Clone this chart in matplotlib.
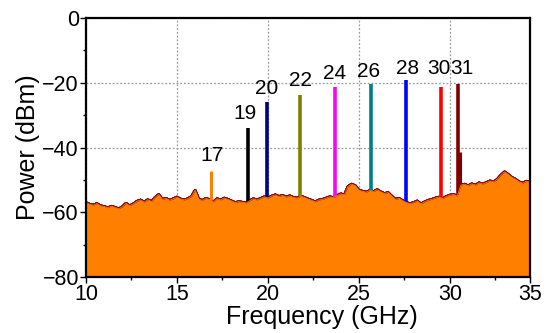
import numpy as np
import matplotlib
matplotlib.use("Agg")
import matplotlib.pyplot as plt

plt.rcParams['font.family'] = ['Liberation Sans', 'DejaVu Sans']

# Frequency grid of the noise floor (GHz)
freq_start, freq_step = 10.0, 0.2
noise_floor = [
    -57.0, -57.5, -57.8, -57.3, -58.0, -58.2, -58.6, -58.1, -58.5, -58.9,
    -58.3, -57.2, -58.0, -57.4, -56.6, -56.2, -56.9, -56.1, -56.7, -55.4,
    -54.5, -56.0, -55.7, -56.3, -55.8, -55.3, -55.9, -56.2, -55.8, -55.1,
    -53.2, -56.0, -56.3, -55.7, -56.1, -56.8, -55.8, -56.2, -55.6, -56.0,
    -56.5, -57.0, -56.7, -56.9, -57.1, -56.4, -55.8, -56.2, -55.7, -55.2,
    -55.6, -55.0, -54.6, -55.1, -54.8, -55.3, -54.9, -55.4, -55.6, -55.0,
    -55.4, -55.9, -56.3, -56.8, -56.2, -56.0, -55.6, -55.2, -55.5, -54.8,
    -54.3, -54.6, -52.0, -51.3, -51.8, -53.2, -53.5, -53.8, -53.2, -53.6,
    -53.0, -53.7, -54.2, -53.9, -55.0, -56.0, -55.7, -56.4, -57.0, -57.3,
    -57.0, -56.5, -57.4, -56.8, -56.3, -56.0, -55.6, -55.3, -55.8, -55.1,
    -54.7, -54.5, -55.0, -51.6, -51.3, -51.8, -51.2, -51.6, -50.9, -51.3,
    -50.8, -50.3, -50.6, -49.8, -48.5, -47.5, -48.3, -49.2, -49.8, -50.6,
    -51.0, -50.4, -50.6,
]

# Tone peaks for each trace
labels = ["17", "19", "20", "22", "24", "26", "28", "30", "31"]
peak_freq = [16.87, 18.88, 19.96, 21.76, 23.70, 25.64, 27.58, 29.50, 30.46]
peak_dbm = [-47.3, -34.1, -25.8, -23.8, -21.2, -20.4, -19.2, -21.2, -20.4]
label_freq = [16.91, 18.74, 19.95, 21.81, 23.68, 25.55, 27.69, 29.40, 30.66]
label_dbm = [-45.5, -32.3, -24.8, -22.3, -20.0, -19.6, -18.5, -18.5, -18.5]
colors = ["#FF8000", "black", "#000080", "#808000", "#FF00FF",
          "#008080", "#0000FF", "#FF0000", "#800000"]

# secondary spur of the 31 GHz trace
spur_freq = [30.55]
spur_dbm = [-41.3]

x_ticks = [10, 15, 20, 25, 30, 34.4]
x_ticklabels = ["10", "15", "20", "25", "30", "35"]
y_ticks = [-80, -60, -40, -20, 0]

freq = freq_start + freq_step * np.arange(len(noise_floor))
floor = np.array(noise_floor)

fig = plt.figure(figsize=(5.51, 3.33), dpi=100)
ax = fig.add_axes([0.156, 0.168, 0.806, 0.778])

# colored traces (floor + tone), drawn first
order = [1, 2, 3, 4, 5, 6, 7, 8]
for i in order:
    ax.plot(freq, floor, color=colors[i], lw=1.8, zorder=2)
for i in order:
    base = np.interp(peak_freq[i], freq, floor)
    ax.vlines(peak_freq[i], base, peak_dbm[i], color=colors[i], lw=2.6, zorder=3)
for f, p in zip(spur_freq, spur_dbm):
    base = np.interp(f, freq, floor)
    ax.vlines(f, base, p, color=colors[8], lw=2.2, zorder=3)

# orange (17) trace drawn last as filled area
ax.fill_between(freq, floor, -80, color=colors[0], lw=0, zorder=4)
ax.plot(freq, floor, color=colors[0], lw=0.6, zorder=4)
base = np.interp(peak_freq[0], freq, floor)
ax.vlines(peak_freq[0], base, peak_dbm[0], color=colors[0], lw=2.2, zorder=4)

for f, ly, t in zip(label_freq, label_dbm, labels):
    ax.text(f, ly, t, ha="center", va="bottom", fontsize=15, color="black", zorder=6)

ax.set_xlim(10, 34.4)
ax.set_ylim(-80, 0)
ax.set_xticks(x_ticks)
ax.set_xticklabels(x_ticklabels)
ax.set_xticks([12.5, 17.5, 22.5, 27.5, 32.5], minor=True)
ax.set_yticks(y_ticks)
ax.set_yticks([-70, -50, -30, -10], minor=True)
ax.tick_params(axis="both", which="major", direction="out", length=4, width=1,
               labelsize=15.5, pad=1, top=False, right=False)
ax.tick_params(axis="both", which="minor", direction="out", length=2.5, width=1,
               top=False, right=False)
ax.grid(True, which="major", linestyle=(0, (1.5, 1.5)), color="#999999", lw=0.9, zorder=1)
ax.set_axisbelow(True)
for s in ax.spines.values():
    s.set_linewidth(1.6)
    s.set_zorder(7)

ax.set_xlabel("Frequency (GHz)", fontsize=18, labelpad=0)
ax.xaxis.label.set_x(0.531)
ax.set_ylabel("Power (dBm)", fontsize=18, labelpad=2)

fig.savefig("out.png", dpi=100)
